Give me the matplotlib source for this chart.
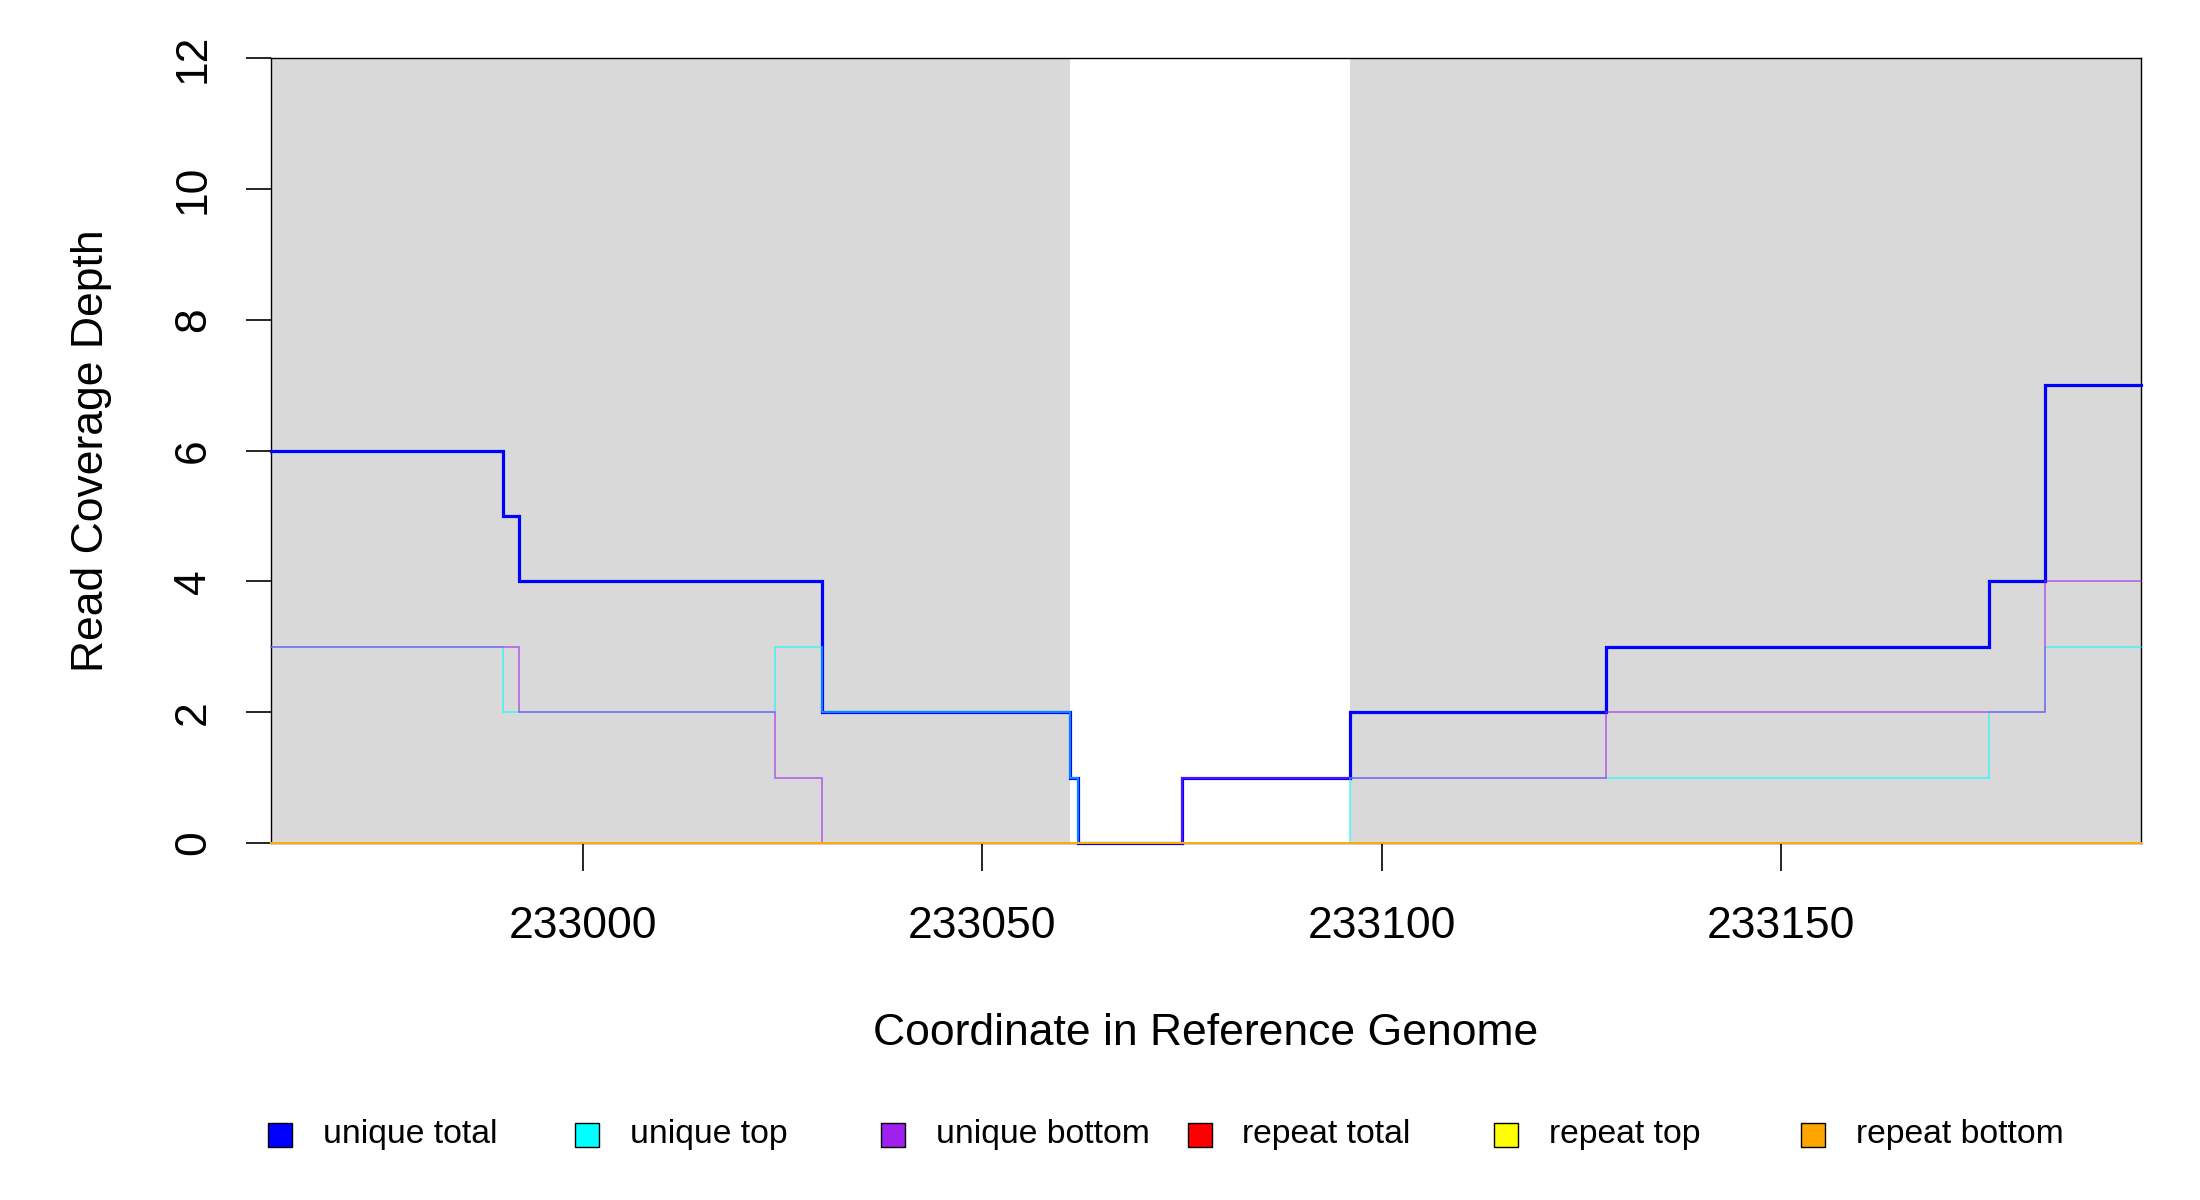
import matplotlib
matplotlib.use("Agg")
import matplotlib.pyplot as plt
from matplotlib.patches import Rectangle

plt.rcParams["font.family"] = ["Liberation Sans", "DejaVu Sans"]

# start coordinate of each constant-depth segment, plus the window end
SEG_START = [232961, 232990, 232992, 233024, 233030, 233061, 233062,
             233075, 233096, 233128, 233176, 233183]
WIN_END = 233195

UNIQUE_TOTAL = [6, 5, 4, 4, 2, 1, 0, 1, 2, 3, 4, 7]
UNIQUE_TOP = [3, 2, 2, 3, 2, 1, 0, 0, 1, 1, 2, 3]
UNIQUE_BOTTOM = [3, 3, 2, 1, 0, 0, 0, 1, 1, 2, 2, 4]
REPEAT_TOTAL = [0] * 12
REPEAT_TOP = [0] * 12
REPEAT_BOTTOM = [0] * 12

# shaded (annotated) regions
SHADE_REGIONS = [(232961, 233061), (233096, 233195)]

SERIES_NAMES = ["unique total", "unique top", "unique bottom",
                "repeat total", "repeat top", "repeat bottom"]
COLOR_KEY = {"unique total": "#0000FF",
             "unique top": "#00FFFF",
             "unique bottom": "#A020F0",
             "repeat total": "#FF0000",
             "repeat top": "#FFFF00",
             "repeat bottom": "#FFA500"}

X_TICKS = [233000, 233050, 233100, 233150]
Y_TICKS = [0, 2, 4, 6, 8, 10, 12]


def draw_steps(ax, values, name, lw, alpha):
    xs = SEG_START + [WIN_END]
    ys = values + [values[-1]]
    ax.step(xs, ys, where="post", color=COLOR_KEY[name], lw=lw, alpha=alpha,
            solid_joinstyle="miter", clip_on=False, zorder=3)


fig = plt.figure(figsize=(22, 12), dpi=100)
ax = fig.add_axes([0.1232, 0.2975, 0.8500, 0.654])

for (a, b) in SHADE_REGIONS:
    ax.axvspan(a, b, color="#D9D9D9", lw=0, zorder=0)

all_series = [UNIQUE_TOTAL, UNIQUE_TOP, UNIQUE_BOTTOM,
              REPEAT_TOTAL, REPEAT_TOP, REPEAT_BOTTOM]
for i, (vals, name) in enumerate(zip(all_series, SERIES_NAMES)):
    if i == 0:
        draw_steps(ax, vals, name, 2.3, 1.0)
    elif i < 3:
        draw_steps(ax, vals, name, 1.1, 0.7)
    else:
        # repeat series all sit on the baseline
        draw_steps(ax, vals, name, 1.4, 0.85)

ax.set_xlim(232961, WIN_END)
ax.set_ylim(0, 12)
ax.set_xticks(X_TICKS)
ax.set_yticks(Y_TICKS)
ax.set_xticklabels([str(t) for t in X_TICKS])
ax.tick_params(axis="both", direction="out", labelsize=32, width=1.2,
               color="black")
ax.tick_params(axis="x", length=20, pad=25)
ax.tick_params(axis="y", length=18, pad=23)
plt.setp(ax.get_yticklabels(), rotation=90, va="center")
for sp in ax.spines.values():
    sp.set_linewidth(1.0)
    sp.set_color("black")
    sp.set_zorder(2)

ax.set_xlabel("Coordinate in Reference Genome", fontsize=32)
ax.set_ylabel("Read Coverage Depth", fontsize=32)
ax.xaxis.set_label_coords(0.5, -0.2165)
ax.yaxis.set_label_coords(-0.085, 0.5)

# legend row along the bottom, drawn by hand like R's horiz legend
W, H = 2200.0, 1200.0
box = 24
for i, name in enumerate(SERIES_NAMES):
    cx = 280 + i * 306.5
    cy = 1135
    fig.patches.append(Rectangle(((cx - box / 2) / W, 1 - (cy + box / 2) / H),
                                 box / W, box / H, transform=fig.transFigure,
                                 facecolor=COLOR_KEY[name], edgecolor="black",
                                 lw=1.0))
    fig.text((cx + 43) / W, 1 - cy / H, name, fontsize=24.3, va="center",
             ha="left")

fig.savefig("out.png", dpi=100)
